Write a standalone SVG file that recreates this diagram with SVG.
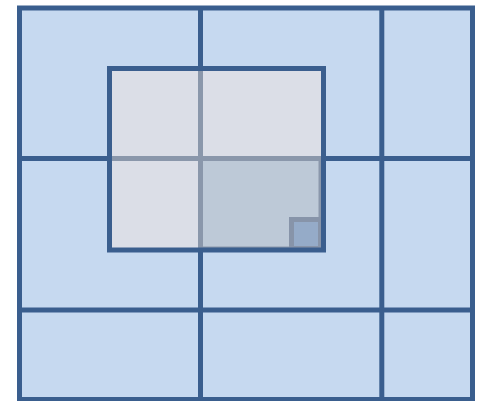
<svg xmlns="http://www.w3.org/2000/svg" width="479" height="401" viewBox="0 0 479 401">
<style>
.grid{stroke:#3A5E8E;stroke-width:5;fill:none}
.ghost{stroke:#8A97AB;stroke-width:5;fill:none}
</style>
<rect width="479" height="401" fill="#FFFFFF"/>
<g id="outer-grid">
<rect x="19.5" y="8" width="453" height="391.5" fill="#C6D9F0"/>
<line class="grid" x1="200.5" y1="8" x2="200.5" y2="399.5"/>
<line class="grid" x1="381.8" y1="8" x2="381.8" y2="399.5"/>
<line class="grid" x1="19.5" y1="158.5" x2="472.5" y2="158.5"/>
<line class="grid" x1="19.5" y1="310" x2="472.5" y2="310"/>
<rect class="grid" x="19.5" y="8" width="453" height="391.5"/>
</g>
<g id="inner-region">
<rect x="109.5" y="68.5" width="214" height="181.5" fill="#DBDEE7"/>
<rect x="200.5" y="158.5" width="120" height="90" fill="#BDC9D7" stroke="#8A97AB" stroke-width="4"/>
<line class="ghost" x1="200.5" y1="68.5" x2="200.5" y2="250"/>
<line class="ghost" x1="109.5" y1="158.5" x2="323.5" y2="158.5"/>
<rect x="291.5" y="219.5" width="29" height="29" fill="#95ABC8" stroke="#8794A9" stroke-width="5"/>
<rect class="grid" x="109.5" y="68.5" width="214" height="181.5"/>
</g>
</svg>
